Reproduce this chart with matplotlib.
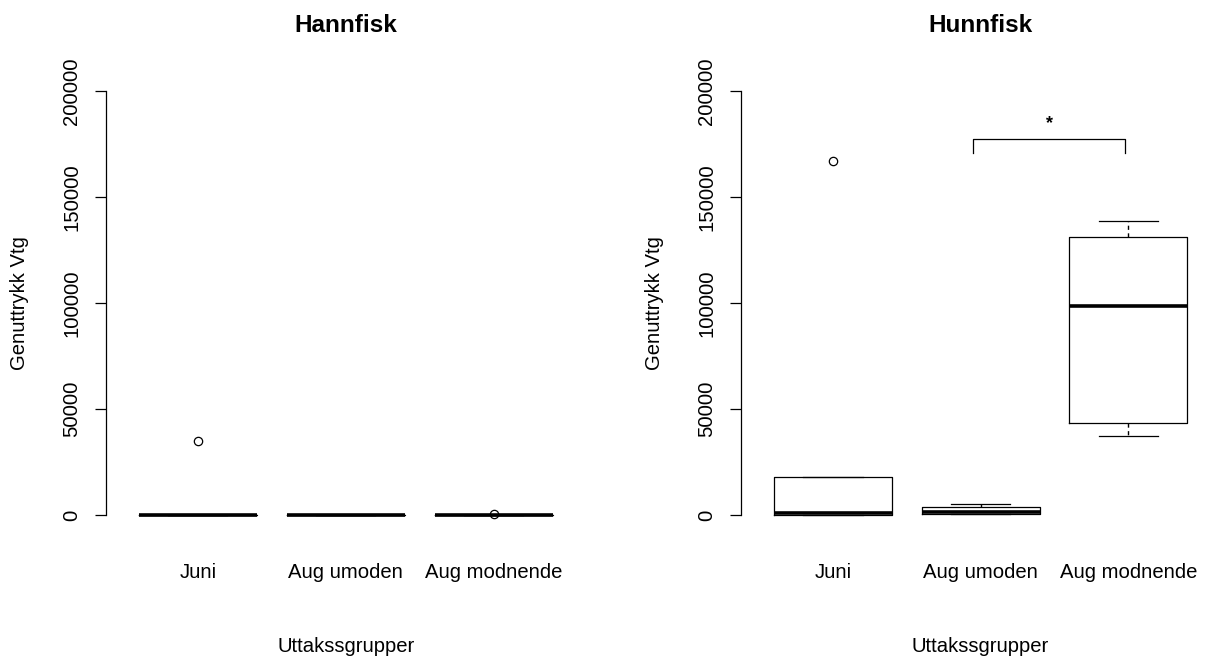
import matplotlib.pyplot as plt

plt.rcParams['font.family'] = ['Liberation Sans', 'DejaVu Sans']

groups = ['Juni', 'Aug umoden', 'Aug modnende']
panel_titles = ['Hannfisk', 'Hunnfisk']

# box statistics: whislo, q1, med, q3, whishi, fliers
hann_whislo = [0, 0, 0]
hann_q1 = [0, 0, 0]
hann_med = [0, 0, 0]
hann_q3 = [0, 0, 0]
hann_whishi = [0, 0, 0]
hann_fliers = [[34900], [], [500]]

hunn_whislo = [0, 300, 37300]
hunn_q1 = [0, 300, 43400]
hunn_med = [900, 1300, 98600]
hunn_q3 = [17900, 3900, 131300]
hunn_whishi = [17900, 5200, 138700]
hunn_fliers = [[167000], [], []]

yticks = [0, 50000, 100000, 150000, 200000]
bracket_y = 177200
bracket_drop = 170600


def make_stats(lo, q1, med, q3, hi, fl):
    return [dict(whislo=a, q1=b, med=c, q3=d, whishi=e, fliers=f, label=g)
            for a, b, c, d, e, f, g in zip(lo, q1, med, q3, hi, fl, groups)]


W, H = 1205, 660
fig = plt.figure(figsize=(W / 100, H / 100), dpi=100)

ax1 = fig.add_axes([106 / W, (H - 532) / H, 479.5 / W, 458 / H])
ax2 = fig.add_axes([741.4 / W, (H - 532) / H, 478.5 / W, 458 / H])

stats = [make_stats(hann_whislo, hann_q1, hann_med, hann_q3, hann_whishi, hann_fliers),
         make_stats(hunn_whislo, hunn_q1, hunn_med, hunn_q3, hunn_whishi, hunn_fliers)]

for ax, st, title, xc in zip([ax1, ax2], stats, panel_titles, [346, 980]):
    ax.bxp(st, positions=[1, 2, 3], widths=0.8, showfliers=True,
           boxprops=dict(color='black', linewidth=0.9),
           medianprops=dict(color='black', linewidth=2.6, solid_capstyle='butt'),
           whiskerprops=dict(color='black', linewidth=1.0, linestyle=(0, (3, 2.5))),
           capprops=dict(color='black', linewidth=0.9),
           capwidths=0.4,
           flierprops=dict(marker='o', markerfacecolor='none', markeredgecolor='black',
                           markersize=6, markeredgewidth=0.9))
    ax.set_xlim(0.38, 3.62)
    ax.set_ylim(-8000, 208000)
    for s in ['top', 'right', 'bottom']:
        ax.spines[s].set_visible(False)
    ax.spines['left'].set_bounds(0, 200000)
    ax.spines['left'].set_linewidth(0.9)
    ax.set_yticks(yticks)
    ax.set_yticklabels([str(v) for v in yticks], rotation=90, va='center')
    ax.tick_params(axis='y', length=8, width=0.9, pad=10, labelsize=14.6)
    ax.set_xticks([1, 2, 3])
    ax.set_xticklabels(groups)
    ax.tick_params(axis='x', length=0, pad=22, labelsize=14.6)
    ax.patch.set_alpha(0)
    fig.text(xc / W, 1 - 25 / H, title, ha='center', va='center',
             fontsize=17.5, fontweight='bold')
    fig.text(xc / W, 1 - 646 / H, 'Uttakssgrupper', ha='center', va='center', fontsize=14.6)

fig.text(20 / W, 1 - 303 / H, 'Genuttrykk Vtg', rotation=90, ha='center', va='center',
         fontsize=14.6)
fig.text(655 / W, 1 - 303 / H, 'Genuttrykk Vtg', rotation=90, ha='center', va='center',
         fontsize=14.6)

# significance bracket between Aug umoden and Aug modnende
bx = [1.95, 1.95, 2.98, 2.98]
ax2.plot(bx, [bracket_drop, bracket_y, bracket_y, bracket_drop], color='black',
         linewidth=0.9, clip_on=False)
ax2.text((bx[0] + bx[-1]) / 2, bracket_y + 5500, '*', ha='center', va='baseline',
         fontsize=13, fontweight='bold')

fig.savefig('out.png', dpi=100)
